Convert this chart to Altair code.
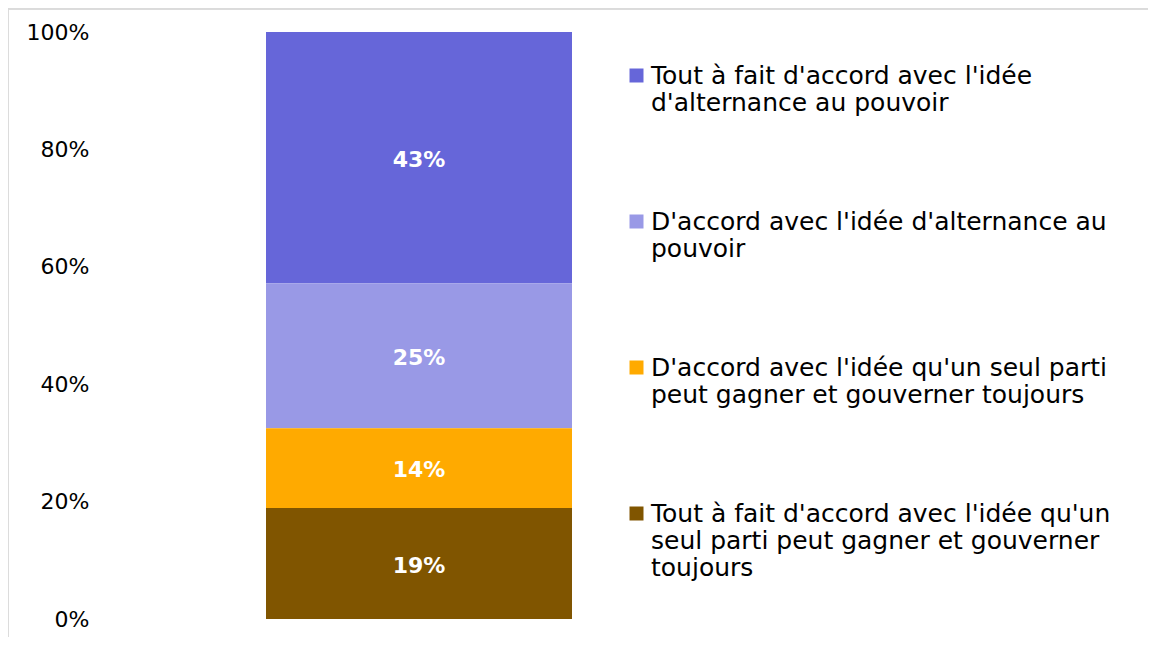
import altair as alt
import pandas as pd
import json

# ---- data ----
categories = [
    "Tout à fait d'accord avec l'idée d'alternance au pouvoir",
    "D'accord avec l'idée d'alternance au pouvoir",
    "D'accord avec l'idée qu'un seul parti peut gagner et gouverner toujours",
    "Tout à fait d'accord avec l'idée qu'un seul parti peut gagner et gouverner toujours",
]
legend_lines = [
    ["Tout à fait d'accord avec l'idée", "d'alternance au pouvoir"],
    ["D'accord avec l'idée d'alternance au", "pouvoir"],
    ["D'accord avec l'idée qu'un seul parti", "peut gagner et gouverner toujours"],
    ["Tout à fait d'accord avec l'idée qu'un", "seul parti peut gagner et gouverner", "toujours"],
]
values = [42.8, 24.7, 13.6, 18.9]          # bar segment heights (%)
value_labels = ["43%", "25%", "14%", "19%"]
stack_rank = [4, 3, 2, 1]                   # 1 = bottom of the bar
colors = ["#6666D9", "#9999E6", "#FFAA00", "#805500"]
y_ticks = [0, 20, 40, 60, 80, 100]
bar_name = ["Total"] * 4

df = pd.DataFrame({
    "bar": bar_name,
    "cat": categories,
    "value": values,
    "label": value_labels,
    "rank": stack_rank,
})

FONT = "DejaVu Sans"
W, H = 638, 587

# legend label line-breaks
expr = "datum.label"
for name, lines in reversed(list(zip(categories, legend_lines))):
    expr = f"datum.label == {json.dumps(name)} ? {json.dumps(lines)} : ({expr})"

base = alt.Chart(df).transform_stack(
    stack="value", groupby=["bar"], as_=["y0", "y1"],
    sort=[alt.SortField("rank", order="ascending")],
).transform_calculate(mid="(datum.y0 + datum.y1) / 2")

xenc = alt.X("bar:N", axis=None,
             scale=alt.Scale(paddingInner=0, paddingOuter=0.5425))

bars = base.mark_bar().encode(
    x=xenc,
    y=alt.Y("y0:Q", title=None,
            scale=alt.Scale(domain=[0, 100], nice=False),
            axis=alt.Axis(values=y_ticks, labelExpr="datum.value + '%'",
                          grid=False, ticks=False, domain=False,
                          labelFont=FONT, labelFontSize=22, labelColor="#000000",
                          labelPadding=11)),
    y2="y1:Q",
    color=alt.Color("cat:N",
                    scale=alt.Scale(domain=categories, range=colors),
                    legend=alt.Legend(
                        title=None, orient="none", legendX=524, legendY=31,
                        direction="vertical", padding=0,
                        symbolType="square", symbolSize=196, symbolStrokeWidth=0,
                        labelFont=FONT, labelFontSize=25, labelColor="#000000",
                        labelLimit=600, labelOffset=2, rowPadding=93,
                        labelExpr=expr)),
)

texts = base.mark_text(font=FONT, fontSize=22, fontWeight="bold",
                       color="white", dy=2).encode(
    x=xenc,
    y=alt.Y("mid:Q"),
    text="label:N",
)

frame_left = alt.Chart(df).mark_rule(color="#D9D9D9", strokeWidth=1).encode(
    x=alt.value(-92), y=alt.value(-24), y2=alt.value(H + 20))
frame_top = alt.Chart(df).mark_rule(color="#D9D9D9", strokeWidth=1).encode(
    x=alt.value(-92), x2=alt.value(W + 420), y=alt.value(-23))

chart = alt.layer(bars, texts, frame_left, frame_top).properties(
    width=W, height=H,
    autosize=alt.AutoSizeParams(type="none"),
    padding={"left": 92, "top": 24, "right": 410, "bottom": 18},
    background="white",
).configure_view(stroke=None)

chart.save("out.html", embed_options={"renderer": "svg", "actions": False})
